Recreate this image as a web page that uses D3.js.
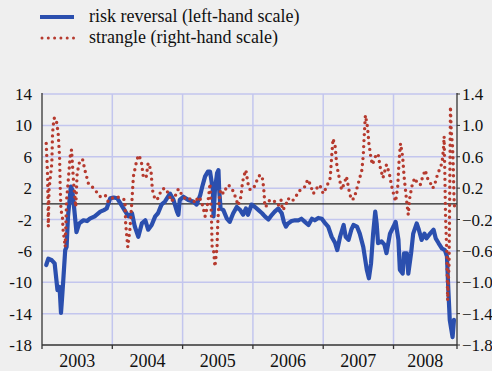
<!DOCTYPE html>
<html>
<head>
<meta charset="utf-8">
<script src="https://cdn.jsdelivr.net/npm/d3@7"></script>
<style>
  html, body { margin: 0; padding: 0; background: #efefef; }
  svg { display: block; }
  text { font-family: "Liberation Serif", "Times New Roman", serif; fill: #111; }
</style>
</head>
<body>
<svg id="chart" width="492" height="371"></svg>
<script>
// ---- Data ----
const seriesNames = ["risk reversal (left-hand scale)", "strangle (right-hand scale)"];
const yearLabels = ["2003", "2004", "2005", "2006", "2007", "2008"];
const leftTicks = [14, 10, 6, 2, -2, -6, -10, -14, -18];
const rightTicks = [1.4, 1.0, 0.6, 0.2, -0.2, -0.6, -1.0, -1.4, -1.8];

// risk reversal (decimal year, value on left scale)
const rrYears = [2003.06,2003.09,2003.14,2003.18,2003.22,2003.25,2003.27,2003.28,2003.30,2003.33,2003.35,2003.37,2003.41,2003.43,2003.46,2003.49,2003.53,2003.59,2003.64,2003.68,2003.75,2003.83,2003.88,2003.92,2003.97,2004.02,2004.07,2004.12,2004.18,2004.23,2004.28,2004.32,2004.37,2004.42,2004.47,2004.51,2004.56,2004.61,2004.65,2004.70,2004.75,2004.82,2004.87,2004.92,2004.94,2004.96,2005.01,2005.08,2005.15,2005.20,2005.25,2005.28,2005.32,2005.36,2005.39,2005.43,2005.44,2005.46,2005.49,2005.51,2005.52,2005.54,2005.58,2005.63,2005.67,2005.72,2005.77,2005.82,2005.86,2005.90,2005.93,2005.98,2006.03,2006.08,2006.13,2006.17,2006.22,2006.27,2006.31,2006.36,2006.41,2006.44,2006.47,2006.50,2006.55,2006.60,2006.65,2006.69,2006.74,2006.79,2006.84,2006.88,2006.93,2006.98,2007.03,2007.07,2007.12,2007.17,2007.20,2007.24,2007.29,2007.32,2007.36,2007.40,2007.43,2007.48,2007.52,2007.57,2007.62,2007.65,2007.68,2007.71,2007.74,2007.76,2007.78,2007.83,2007.87,2007.90,2007.95,2008.00,2008.03,2008.07,2008.09,2008.13,2008.15,2008.19,2008.21,2008.25,2008.28,2008.33,2008.36,2008.40,2008.44,2008.47,2008.52,2008.57,2008.60,2008.64,2008.69,2008.73,2008.76,2008.78,2008.80,2008.84,2008.86];
const rrValues = [-7.8,-7.0,-7.2,-7.6,-11.0,-10.6,-13.9,-12.7,-10.1,-5.9,-5.5,-1.6,2.2,1.8,-0.8,-3.6,-2.5,-2.1,-2.2,-1.9,-1.6,-1.0,-0.8,-0.6,0.7,0.8,0.7,0.0,-0.9,-1.6,-1.2,-2.9,-4.2,-2.5,-2.1,-3.3,-2.7,-1.6,-1.2,-0.1,0.3,1.3,0.5,-1.0,-1.4,0.5,0.9,0.5,0.3,-0.1,1.1,2.2,3.5,4.1,4.1,1.8,-1.6,1.8,3.9,4.3,1.8,-0.6,-0.8,-1.9,-2.3,-1.2,-0.4,-0.8,-1.4,-0.6,-1.4,-0.1,-0.4,-0.8,-1.2,-1.6,-2.0,-1.4,-1.0,-0.6,-1.2,-2.3,-2.9,-2.5,-2.2,-2.1,-2.1,-1.9,-2.3,-2.7,-1.9,-2.1,-1.8,-1.9,-2.5,-2.9,-4.2,-5.0,-5.9,-4.2,-2.7,-4.2,-4.6,-3.3,-2.7,-2.9,-3.8,-5.5,-8.4,-9.5,-7.6,-3.8,-1.0,-2.5,-5.0,-4.8,-5.2,-6.3,-3.8,-2.9,-2.3,-4.6,-8.4,-8.9,-6.3,-6.3,-8.9,-6.3,-3.8,-2.5,-3.3,-4.6,-3.8,-4.4,-3.8,-3.3,-4.4,-5.0,-5.7,-5.9,-6.7,-11.0,-14.8,-17.0,-14.8];

// strangle (decimal year, value on right scale)
const strYears = [2003.06,2003.08,2003.09,2003.10,2003.14,2003.15,2003.17,2003.20,2003.23,2003.25,2003.26,2003.27,2003.29,2003.30,2003.33,2003.35,2003.37,2003.40,2003.42,2003.45,2003.48,2003.50,2003.54,2003.58,2003.61,2003.66,2003.71,2003.75,2003.83,2003.90,2003.94,2003.99,2004.06,2004.13,2004.18,2004.19,2004.22,2004.25,2004.28,2004.30,2004.34,2004.37,2004.41,2004.44,2004.48,2004.51,2004.55,2004.57,2004.61,2004.65,2004.70,2004.75,2004.80,2004.84,2004.89,2004.94,2004.98,2005.01,2005.06,2005.13,2005.18,2005.22,2005.26,2005.29,2005.32,2005.34,2005.37,2005.39,2005.41,2005.42,2005.44,2005.46,2005.49,2005.50,2005.52,2005.54,2005.58,2005.63,2005.65,2005.70,2005.75,2005.79,2005.83,2005.85,2005.87,2005.90,2005.93,2005.96,2006.01,2006.04,2006.08,2006.11,2006.14,2006.16,2006.17,2006.20,2006.24,2006.31,2006.36,2006.40,2006.42,2006.46,2006.50,2006.55,2006.60,2006.65,2006.69,2006.74,2006.78,2006.81,2006.86,2006.91,2006.95,2007.00,2007.05,2007.10,2007.12,2007.14,2007.17,2007.19,2007.21,2007.24,2007.26,2007.30,2007.33,2007.37,2007.40,2007.44,2007.48,2007.52,2007.55,2007.57,2007.58,2007.60,2007.63,2007.65,2007.68,2007.70,2007.74,2007.78,2007.81,2007.85,2007.90,2007.94,2007.97,2008.01,2008.03,2008.06,2008.08,2008.10,2008.13,2008.15,2008.17,2008.19,2008.21,2008.23,2008.26,2008.30,2008.33,2008.38,2008.41,2008.45,2008.49,2008.52,2008.55,2008.58,2008.61,2008.65,2008.69,2008.71,2008.72,2008.73,2008.74,2008.76,2008.77,2008.79,2008.80,2008.81,2008.82,2008.84,2008.85,2008.86,2008.87];
const strValues = [0.77,0.35,-0.29,0.18,0.52,0.90,1.09,1.09,0.90,0.60,0.18,-0.08,-0.16,-0.33,-0.55,0.05,0.26,0.60,0.69,0.26,-0.04,0.39,0.56,0.56,0.43,0.26,0.22,0.18,0.09,0.11,0.03,0.07,0.09,0.07,0.05,-0.25,-0.55,-0.33,0.05,0.35,0.52,0.62,0.56,0.35,0.33,0.52,0.43,0.18,0.05,0.07,0.18,0.20,0.13,0.03,0.09,0.19,0.13,0.09,0.05,0.07,0.01,0.09,0.05,-0.04,-0.16,-0.08,0.09,0.26,-0.16,-0.55,-0.59,-0.80,-0.55,-0.25,0.05,0.18,0.13,0.22,0.24,0.20,0.09,-0.02,0.09,0.26,0.35,0.43,0.26,0.18,0.20,0.26,0.35,0.37,0.31,0.13,-0.04,-0.02,0.05,0.03,-0.02,0.05,-0.08,-0.04,0.07,0.03,0.07,0.16,0.18,0.22,0.31,0.26,0.13,0.20,0.24,0.13,0.22,0.33,0.60,0.83,0.73,0.52,0.41,0.28,0.18,0.26,0.35,0.16,0.05,0.07,0.20,0.33,0.43,0.62,0.81,1.13,0.98,0.77,0.58,0.50,0.60,0.64,0.47,0.33,0.50,0.39,0.24,0.09,0.03,0.22,0.56,0.77,0.60,0.35,0.18,0.01,-0.14,0.07,0.22,0.33,0.28,0.24,0.33,0.43,0.31,0.28,0.20,0.22,0.33,0.43,0.52,0.69,0.86,0.39,-0.16,-0.68,-1.23,-0.76,0.18,1.24,0.94,0.73,0.47,0.09,-0.08];

// ---- Layout ----
const svg = d3.select("#chart");
const plot = { left: 42, right: 457, top: 94, bottom: 345 };
const blue = "#2b4fae";
const red = "#b63a2e";
const gridColor = "#c3c6ee";

const x = d3.scaleLinear().domain([2003, 2008.903]).range([plot.left, plot.right]);
const yL = d3.scaleLinear().domain([-18, 14]).range([plot.bottom, plot.top]);
const yR = d3.scaleLinear().domain([-1.8, 1.4]).range([plot.bottom, plot.top]);

// horizontal gridlines
svg.append("g").selectAll("line").data(leftTicks.filter(d => d > -18)).join("line")
  .attr("x1", plot.left).attr("x2", plot.right)
  .attr("y1", d => yL(d)).attr("y2", d => yL(d))
  .attr("stroke", gridColor).attr("stroke-width", 1.5);

// vertical gridlines at year boundaries
const yearBounds = yearLabels.map(d => +d).slice(1);
svg.append("g").selectAll("line").data(yearBounds).join("line")
  .attr("x1", d => x(d)).attr("x2", d => x(d))
  .attr("y1", plot.top).attr("y2", plot.bottom)
  .attr("stroke", gridColor).attr("stroke-width", 1.5);

// zero line
svg.append("line")
  .attr("x1", plot.left).attr("x2", plot.right)
  .attr("y1", yL(0)).attr("y2", yL(0))
  .attr("stroke", "#222").attr("stroke-width", 1.3);

// axes
const axisColor = "#333";
svg.append("line").attr("x1", plot.left).attr("x2", plot.left).attr("y1", plot.top - 1).attr("y2", plot.bottom)
  .attr("stroke", axisColor).attr("stroke-width", 1.3);
svg.append("line").attr("x1", plot.right).attr("x2", plot.right).attr("y1", plot.top - 1).attr("y2", plot.bottom)
  .attr("stroke", axisColor).attr("stroke-width", 1.3);
svg.append("line").attr("x1", plot.left).attr("x2", plot.right).attr("y1", plot.bottom).attr("y2", plot.bottom)
  .attr("stroke", axisColor).attr("stroke-width", 1.3);

// bottom ticks
const tickYears = yearLabels.map(d => +d).concat([2008.903]);
svg.append("g").selectAll("line").data(tickYears).join("line")
  .attr("x1", d => x(d)).attr("x2", d => x(d))
  .attr("y1", plot.bottom).attr("y2", plot.bottom + 4)
  .attr("stroke", axisColor).attr("stroke-width", 1.3);

// right ticks
svg.append("g").selectAll("line").data(rightTicks).join("line")
  .attr("x1", plot.right).attr("x2", plot.right + 3)
  .attr("y1", d => yR(d)).attr("y2", d => yR(d))
  .attr("stroke", axisColor).attr("stroke-width", 1);

// left labels
svg.append("g").selectAll("text").data(leftTicks).join("text")
  .attr("x", 32).attr("y", d => yL(d) + 6)
  .attr("text-anchor", "end").attr("font-size", 17)
  .text(d => d);

// right labels
svg.append("g").selectAll("text").data(rightTicks).join("text")
  .attr("x", 462).attr("y", d => yR(d) + 6)
  .attr("text-anchor", "start").attr("font-size", 17)
  .text(d => d3.format(".1f")(d));

// year labels
svg.append("g").selectAll("text").data(yearLabels).join("text")
  .attr("x", d => (x(+d) + x(Math.min(+d + 1, 2008.903))) / 2)
  .attr("y", 367)
  .attr("text-anchor", "middle").attr("font-size", 18)
  .text(d => d);

// series
const rrData = rrYears.map((t, i) => [t, rrValues[i]]);
const strData = strYears.map((t, i) => [t, strValues[i]]);

svg.append("path").datum(rrData)
  .attr("fill", "none").attr("stroke", blue).attr("stroke-width", 4.2)
  .attr("stroke-linejoin", "round").attr("stroke-linecap", "round")
  .attr("d", d3.line().x(d => x(d[0])).y(d => yL(d[1])));

svg.append("path").datum(strData)
  .attr("fill", "none").attr("stroke", red).attr("stroke-width", 3.4)
  .attr("stroke-dasharray", "0 6").attr("stroke-linecap", "round")
  .attr("stroke-linejoin", "round")
  .attr("d", d3.line().x(d => x(d[0])).y(d => yR(d[1])));

// legend
const legend = svg.append("g");
legend.append("line").attr("x1", 40).attr("x2", 74).attr("y1", 17).attr("y2", 17)
  .attr("stroke", blue).attr("stroke-width", 4);
legend.append("line").attr("x1", 42).attr("x2", 76).attr("y1", 38).attr("y2", 38)
  .attr("stroke", red).attr("stroke-width", 3)
  .attr("stroke-dasharray", "0 6.3").attr("stroke-linecap", "round");
legend.selectAll("text").data(seriesNames).join("text")
  .attr("x", 89).attr("y", (d, i) => 22 + i * 21)
  .attr("font-size", 18)
  .text(d => d);
</script>
</body>
</html>
